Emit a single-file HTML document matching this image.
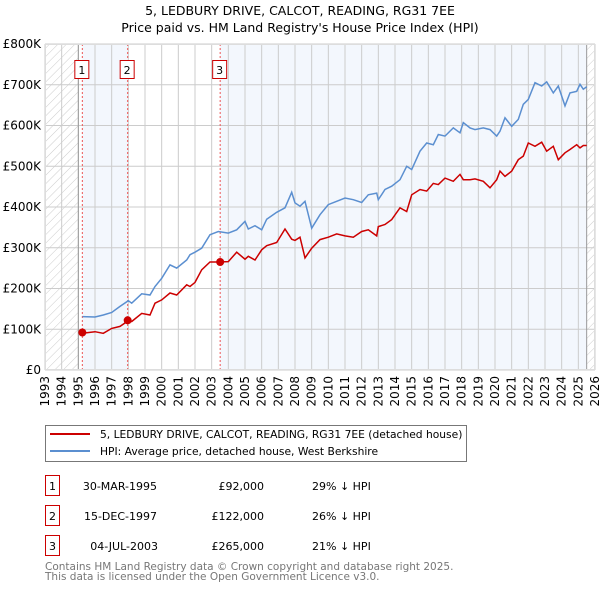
<!DOCTYPE html>
<html><head><meta charset="utf-8"><style>
body{margin:0;background:#fff;width:600px;height:590px;overflow:hidden}
text{font-family:"DejaVu Sans","Liberation Sans",sans-serif}
</style></head><body>
<svg id="chart" width="600" height="590" xmlns="http://www.w3.org/2000/svg">
<defs><pattern id="hatch" patternUnits="userSpaceOnUse" width="6" height="6" patternTransform="rotate(45)"><line x1="0" y1="0" x2="0" y2="6" stroke="#ccc" stroke-width="1"/></pattern></defs>
<text x="300" y="15" text-anchor="middle" font-size="12.5">5, LEDBURY DRIVE, CALCOT, READING, RG31 7EE</text>
<text x="300" y="32" text-anchor="middle" font-size="12.5">Price paid vs. HM Land Registry's House Price Index (HPI)</text>
<g id="plot"></g>
<g>
<rect x="45.5" y="425.5" width="421" height="36" fill="#fff" stroke="#777"/>
<line x1="50" y1="434" x2="90" y2="434" stroke="#cc0000" stroke-width="2"/>
<text x="100" y="438" font-size="10.7">5, LEDBURY DRIVE, CALCOT, READING, RG31 7EE (detached house)</text>
<line x1="50" y1="451" x2="90" y2="451" stroke="#5b8fd0" stroke-width="2"/>
<text x="100" y="455" font-size="10.7">HPI: Average price, detached house, West Berkshire</text>
</g>
<g font-size="11">
<rect x="45.5" y="475.5" width="14" height="20" fill="#fff" stroke="#cc0000"/><text x="52.5" y="490" text-anchor="middle">1</text>
<text x="157" y="490" text-anchor="end">30-MAR-1995</text><text x="264" y="490" text-anchor="end">£92,000</text><text x="312" y="490">29% ↓ HPI</text>
<rect x="45.5" y="505.5" width="14" height="20" fill="#fff" stroke="#cc0000"/><text x="52.5" y="520" text-anchor="middle">2</text>
<text x="157" y="520" text-anchor="end">15-DEC-1997</text><text x="264" y="520" text-anchor="end">£122,000</text><text x="312" y="520">26% ↓ HPI</text>
<rect x="45.5" y="535.5" width="14" height="20" fill="#fff" stroke="#cc0000"/><text x="52.5" y="550" text-anchor="middle">3</text>
<text x="158" y="550" text-anchor="end">04-JUL-2003</text><text x="264" y="550" text-anchor="end">£265,000</text><text x="312" y="550">21% ↓ HPI</text>
</g>
<text x="45" y="570" font-size="10.5" fill="#777">Contains HM Land Registry data © Crown copyright and database right 2025.</text>
<text x="45" y="580" font-size="10.5" fill="#777">This data is licensed under the Open Government Licence v3.0.</text>
</svg>
<script>
const yTicks=[0,100,200,300,400,500,600,700,800];
const yLabels=["£0","£100K","£200K","£300K","£400K","£500K","£600K","£700K","£800K"];
const years=[1993,1994,1995,1996,1997,1998,1999,2000,2001,2002,2003,2004,2005,2006,2007,2008,2009,2010,2011,2012,2013,2014,2015,2016,2017,2018,2019,2020,2021,2022,2023,2024,2025,2026];
const saleDates=[1995.24,1997.96,2003.51];
const salePrices=[92,122,265];
const saleLabels=["1","2","3"];
const hpiDates=[1995.25,1996.0,1996.5,1997.0,1997.5,1998.0,1998.2,1998.8,1999.3,1999.6,2000.0,2000.5,2000.9,2001.5,2001.7,2002.0,2002.4,2002.9,2003.4,2004.0,2004.5,2005.0,2005.2,2005.6,2006.0,2006.3,2006.9,2007.4,2007.8,2008.0,2008.3,2008.6,2009.0,2009.5,2010.0,2010.5,2011.0,2011.5,2012.0,2012.4,2012.9,2013.0,2013.4,2013.8,2014.3,2014.7,2015.0,2015.5,2015.9,2016.3,2016.6,2017.0,2017.5,2017.9,2018.1,2018.5,2018.8,2019.3,2019.7,2020.1,2020.3,2020.6,2021.0,2021.4,2021.7,2022.0,2022.4,2022.8,2023.1,2023.5,2023.8,2024.2,2024.5,2024.9,2025.1,2025.3,2025.5];
const hpiValues=[131,130,135,141,156,170,164,187,184,205,225,258,250,270,283,289,299,332,340,336,344,365,346,354,344,370,387,398,436,410,402,414,348,381,406,414,422,418,411,430,434,418,443,451,467,500,492,537,557,553,578,574,594,582,607,594,590,594,590,574,586,619,598,615,652,664,705,697,707,680,697,648,680,684,701,689,695];
const ppValues=[90,94,90,102,107,121,119,139,135,164,172,189,184,209,205,215,246,265,265,266,289,272,279,270,295,305,313,346,321,318,326,275,299,320,326,334,329,326,340,344,329,352,357,369,398,389,430,443,439,458,455,471,463,480,467,467,469,463,447,467,488,475,488,516,525,557,549,559,537,549,516,533,541,553,545,551,551];
const X0=45,X1=595,Y0=370,Y1=44,ymin=0,ymax=800,xmin=1993,xmax=2026;
const sx=v=>X0+(v-xmin)/(xmax-xmin)*(X1-X0);
const sy=v=>Y0-(v-ymin)/(ymax-ymin)*(Y0-Y1);
const NS="http://www.w3.org/2000/svg";
const g=document.getElementById('plot');
function mk(t,a,p){const e=document.createElementNS(NS,t);for(const k in a)e.setAttribute(k,a[k]);(p||g).appendChild(e);return e;}
mk('rect',{x:X0,y:Y1,width:X1-X0,height:Y0-Y1,fill:'#fff'});
mk('rect',{x:sx(saleDates[0]),y:Y1,width:sx(saleDates[1])-sx(saleDates[0]),height:Y0-Y1,fill:'#eef3fc',opacity:0.7});
mk('rect',{x:sx(saleDates[2]),y:Y1,width:sx(2025.5)-sx(saleDates[2]),height:Y0-Y1,fill:'#eef3fc',opacity:0.7});
mk('rect',{x:X0,y:Y1,width:sx(1995)-X0,height:Y0-Y1,fill:'url(#hatch)'});
mk('rect',{x:sx(2025.5),y:Y1,width:X1-sx(2025.5),height:Y0-Y1,fill:'url(#hatch)'});
years.forEach(yr=>{const l=mk('line',{x1:sx(yr),x2:sx(yr),y1:Y1,y2:Y0,stroke:'#ccc','stroke-width':1});


const t=mk('text',{transform:`translate(${sx(yr)+4},${Y0+6}) rotate(-90)`,'text-anchor':'end','font-size':12});t.textContent=yr;

});
yTicks.forEach((v,i)=>{const l=mk('line',{x1:X0,x2:X1,y1:sy(v),y2:sy(v),stroke:'#ccc','stroke-width':1});


const t=mk('text',{x:X0-4,y:sy(v)+4,'text-anchor':'end','font-size':12});t.textContent=yLabels[i];

});
mk('line',{x1:sx(1995),x2:sx(1995),y1:Y1,y2:Y0,stroke:'#999'});
mk('line',{x1:sx(2025.5),x2:sx(2025.5),y1:Y1,y2:Y0,stroke:'#999'});
saleDates.forEach((d,i)=>{const l=mk('line',{x1:sx(d),x2:sx(d),y1:Y1,y2:Y0,stroke:'#e55','stroke-dasharray':'2,2','stroke-width':1});


const r=mk('rect',{x:sx(d)-7.5,y:60.5,width:14,height:18,fill:'#fff',stroke:'#cc0000'});


const t=mk('text',{x:sx(d)-0.5,y:74,'text-anchor':'middle','font-size':11});t.textContent=saleLabels[i];});
const hp=mk('path',{d:hpiDates.map((d,i)=>(i?'L':'M')+sx(d).toFixed(1)+','+sy(hpiValues[i]).toFixed(1)).join(''),fill:'none',stroke:'#5b8fd0','stroke-width':1.5});


const pp=mk('path',{d:hpiDates.map((d,i)=>(i?'L':'M')+sx(d).toFixed(1)+','+sy(ppValues[i]).toFixed(1)).join(''),fill:'none',stroke:'#cc0000','stroke-width':1.5});


saleDates.forEach((d,i)=>{const c=mk('circle',{cx:sx(d),cy:sy(salePrices[i]),r:4,fill:'#cc0000'});

});
mk('rect',{x:X0+0.5,y:Y1+0.5,width:X1-X0-1,height:Y0-Y1-1,fill:'none',stroke:'#ddd'});
</script>
</body></html>
